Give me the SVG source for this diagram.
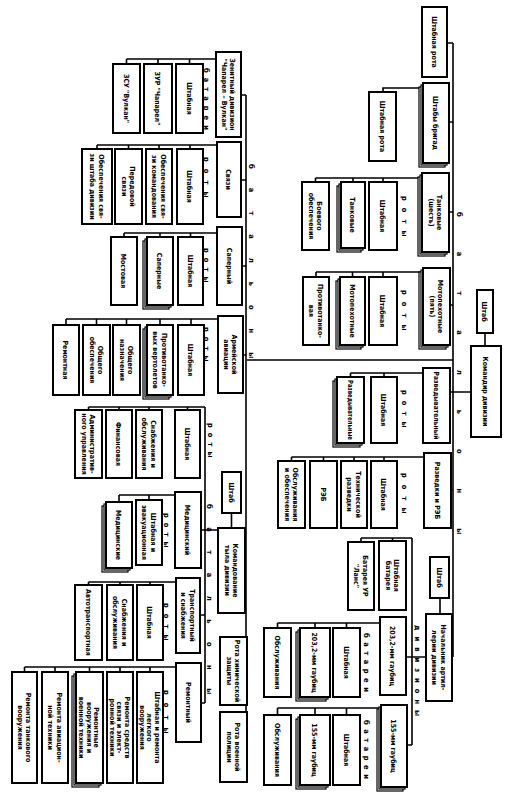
<svg xmlns="http://www.w3.org/2000/svg" width="511" height="800" viewBox="0 0 511 800">
<style>
.b{fill:#fff;stroke:#000;stroke-width:2}
.k{fill:#fff;stroke:#000;stroke-width:1.2}
.l{fill:none;stroke:#000;stroke-width:1.6}
.t{font-family:"DejaVu Sans Condensed","Liberation Sans Narrow","Liberation Sans",sans-serif;font-size:7px;font-weight:bold;text-anchor:middle;fill:#000}
.s{font-family:"DejaVu Sans Condensed","Liberation Sans",sans-serif;font-size:7.5px;font-weight:bold;fill:#000}
</style>
<rect width="511" height="800" fill="#fff"/>
<g id="connectors" class="l">
<path d="M453,43V657M447,43H453M449,122H453M449,212H453M450,305H453M450,392H471M451,490H453M247,360H453M485,333V346"/>
<path d="M423,88H383V92"/>
<path d="M422,178H315.5M383,178V182M353,178V182M315.5,178V182"/>
<path d="M423,272H316M383,272V277M352.5,272V277M316,272V277"/>
<path d="M423,373H350.5M384,373V377M350.5,373V377"/>
<path d="M424,457H291.5M384,457V461M354,457V461M323.5,457V461M291.5,457V461"/>
<path d="M440,598V614M452,657H453M412,657H426M412,538V745M361,538H412M392.5,538V541M361,538V542M406,657H412M407,745H412"/>
<path d="M380,623H277.5M346.5,623V628M315,623V628M277.5,623V628"/>
<path d="M381,708H277.5M346.5,708V715M315,708V715M277.5,708V715"/>
<path d="M246,95V747M241,95H246M241,180H246M242,266H246M243,355H246M245,570H246"/>
<path d="M216,59H126.5M189.5,59V64M158,59V64M126.5,59V64"/>
<path d="M217,145H97M190,145V149M159,145V149M128.5,145V149M97,145V149"/>
<path d="M217,233H124M190.5,233V237M160,233V237M124,233V237"/>
<path d="M218,319H66M191,319V325M160,319V325M126.5,319V325M96.5,319V325M66,319V325"/>
<path d="M205,407V703M205,407H88.5M187.5,407V410M149,407V410M119,407V410M88.5,407V410"/>
<path d="M231.5,513V528M201,530H218M200,615H205M201,703H205"/>
<path d="M175,495H119M149,495V500M119,495V502"/>
<path d="M176,582H88.5M150,582V585M120,582V585M88.5,582V585"/>
<path d="M176,667H24.5M150,667V672M120,667V672M89.5,667V672M55,667V672M24.5,667V672"/>
</g>
<g id="labels">
<text class="s" transform="translate(460,212) rotate(90)" y="2.6" letter-spacing="35">батальоны</text>
<text class="s" transform="translate(252,164) rotate(90)" y="2.6" letter-spacing="19">батальоны</text>
<text class="s" transform="translate(210,504) rotate(90)" y="2.6" letter-spacing="18.5">батальоны</text>
<text class="s" transform="translate(418,625) rotate(90)" y="2.6" letter-spacing="6">дивизионы</text>
<text class="s" transform="translate(405,196) rotate(90)" y="2.6" letter-spacing="7">роты</text>
<text class="s" transform="translate(405,290) rotate(90)" y="2.6" letter-spacing="7">роты</text>
<text class="s" transform="translate(405,390) rotate(90)" y="2.6" letter-spacing="6">роты</text>
<text class="s" transform="translate(405,473) rotate(90)" y="2.6" letter-spacing="7">роты</text>
<text class="s" transform="translate(367,633) rotate(90)" y="2.6" letter-spacing="4.5">батареи</text>
<text class="s" transform="translate(367,720) rotate(90)" y="2.6" letter-spacing="4.5">батареи</text>
<text class="s" transform="translate(207,68) rotate(90)" y="2.6" letter-spacing="5">батареи</text>
<text class="s" transform="translate(207,157) rotate(90)" y="2.6" letter-spacing="7">роты</text>
<text class="s" transform="translate(207,248) rotate(90)" y="2.6" letter-spacing="5">роты</text>
<text class="s" transform="translate(207,327) rotate(90)" y="2.6" letter-spacing="5">роты</text>
<text class="s" transform="translate(211,423) rotate(90)" y="2.6" letter-spacing="5">роты</text>
<text class="s" transform="translate(167,513) rotate(90)" y="2.6" letter-spacing="5">роты</text>
<text class="s" transform="translate(167,603) rotate(90)" y="2.6" letter-spacing="6">роты</text>
<text class="s" transform="translate(167,690) rotate(90)" y="2.6" letter-spacing="8">роты</text>
</g>
<g id="n-shtab-rota"><rect class="b" x="422" y="7" width="25" height="70"/><text class="t" transform="translate(434.5,42) rotate(90)" y="2.6">Штабная рота</text></g>
<g id="n-shtaby-brigad"><rect class="k" x="419" y="87" width="26" height="80"/><rect class="k" x="421" y="85" width="26" height="80"/><rect class="b" x="423" y="83" width="26" height="80"/><text class="t" transform="translate(436,123) rotate(90)" y="2.6">Штабы бригад</text></g>
<g id="n-brig-rota"><rect class="b" x="369" y="92" width="27" height="69"/><text class="t" transform="translate(382.5,126.5) rotate(90)" y="2.6">Штабная рота</text></g>
<g id="n-tank"><rect class="k" x="418" y="177" width="27" height="79"/><rect class="k" x="420" y="175" width="27" height="79"/><rect class="b" x="422" y="173" width="27" height="79"/><text class="t" transform="translate(435.5,212.5) rotate(90)"><tspan x="0" y="-1.65">Танковые</tspan><tspan x="0" y="6.85">(шесть)</tspan></text></g>
<g id="n-tank-sh"><rect class="b" x="369" y="182" width="28" height="68"/><text class="t" transform="translate(383,216) rotate(90)" y="2.6">Штабная</text></g>
<g id="n-tank-t"><rect class="k" x="337" y="186" width="24" height="66"/><rect class="k" x="339" y="184" width="24" height="66"/><rect class="b" x="341" y="182" width="24" height="66"/><text class="t" transform="translate(353,215) rotate(90)" y="2.6">Танковые</text></g>
<g id="n-tank-bo"><rect class="b" x="302" y="182" width="27" height="68"/><text class="t" transform="translate(315.5,216) rotate(90)"><tspan x="0" y="-1.65">Боевого</tspan><tspan x="0" y="6.85">обеспечения</tspan></text></g>
<g id="n-mp"><rect class="k" x="419" y="272" width="27" height="77"/><rect class="k" x="421" y="270" width="27" height="77"/><rect class="b" x="423" y="268" width="27" height="77"/><text class="t" transform="translate(436.5,306.5) rotate(90)"><tspan x="0" y="-1.65">Мотопехотные</tspan><tspan x="0" y="6.85">(пять)</tspan></text></g>
<g id="n-mp-sh"><rect class="b" x="369" y="277" width="28" height="68"/><text class="t" transform="translate(383,311) rotate(90)" y="2.6">Штабная</text></g>
<g id="n-mp-m"><rect class="k" x="336" y="281" width="25" height="68"/><rect class="k" x="338" y="279" width="25" height="68"/><rect class="b" x="340" y="277" width="25" height="68"/><text class="t" transform="translate(352.5,311) rotate(90)" y="2.6">Мотопехотные</text></g>
<g id="n-mp-pt"><rect class="b" x="303" y="277" width="26" height="68"/><text class="t" transform="translate(316,311) rotate(90)"><tspan x="0" y="-1.65">Противотанко-</tspan><tspan x="0" y="6.85">вая</tspan></text></g>
<g id="n-razv"><rect class="b" x="423" y="368" width="27" height="75"/><text class="t" transform="translate(436.5,405.5) rotate(90)" y="2.6" textLength="68" lengthAdjust="spacingAndGlyphs">Разведывательный</text></g>
<g id="n-razv-sh"><rect class="b" x="371" y="377" width="26" height="66"/><text class="t" transform="translate(384,410) rotate(90)" y="2.6">Штабная</text></g>
<g id="n-razv-r"><rect class="k" x="333" y="381" width="27" height="66"/><rect class="k" x="335" y="379" width="27" height="66"/><rect class="b" x="337" y="377" width="27" height="66"/><text class="t" transform="translate(350.5,410) rotate(90)" y="2.6" textLength="60" lengthAdjust="spacingAndGlyphs">Разведывательные</text></g>
<g id="n-reb"><rect class="b" x="424" y="453" width="27" height="75"/><text class="t" transform="translate(437.5,490.5) rotate(90)" y="2.6">Разведки и РЭБ</text></g>
<g id="n-reb-sh"><rect class="b" x="371" y="461" width="26" height="67"/><text class="t" transform="translate(384,494.5) rotate(90)" y="2.6">Штабная</text></g>
<g id="n-reb-tr"><rect class="b" x="341" y="461" width="26" height="67"/><text class="t" transform="translate(354,494.5) rotate(90)"><tspan x="0" y="-1.65">Технической</tspan><tspan x="0" y="6.85">разведки</tspan></text></g>
<g id="n-reb-reb"><rect class="b" x="310" y="461" width="27" height="67"/><text class="t" transform="translate(323.5,494.5) rotate(90)" y="2.6">РЭБ</text></g>
<g id="n-reb-ob"><rect class="b" x="278" y="461" width="27" height="67"/><text class="t" transform="translate(291.5,494.5) rotate(90)"><tspan x="0" y="-1.65">Обслуживания</tspan><tspan x="0" y="6.85">и обеспечения</tspan></text></g>
<g id="n-shtab"><rect class="b" x="477" y="290" width="16" height="43"/><text class="t" transform="translate(485,311.5) rotate(90)" y="2.6">Штаб</text></g>
<g id="n-komdiv"><rect class="b" x="471" y="346" width="30" height="91"/><text class="t" transform="translate(486,391.5) rotate(90)" y="2.6">Командир дивизии</text></g>
<g id="n-art-shtab"><rect class="b" x="430" y="557" width="19" height="41"/><text class="t" transform="translate(439.5,577.5) rotate(90)" y="2.6">Штаб</text></g>
<g id="n-nachart"><rect class="b" x="426" y="614" width="26" height="87"/><text class="t" transform="translate(439,657.5) rotate(90)"><tspan x="0" y="-1.65">Начальник артил-</tspan><tspan x="0" y="6.85">лерии дивизии</tspan></text></g>
<g id="n-sh-bat"><rect class="b" x="379" y="541" width="27" height="69"/><text class="t" transform="translate(392.5,575.5) rotate(90)"><tspan x="0" y="-1.65">Штабная</tspan><tspan x="0" y="6.85">батарея</tspan></text></g>
<g id="n-lance"><rect class="b" x="348" y="542" width="26" height="68"/><text class="t" transform="translate(361,576) rotate(90)"><tspan x="0" y="-1.65">Батарея УР</tspan><tspan x="0" y="6.85">"Ланс"</tspan></text></g>
<g id="n-203"><rect class="b" x="380" y="617" width="26" height="78"/><text class="t" transform="translate(393,656) rotate(90)" y="2.6">203,2-мм гаубиц</text></g>
<g id="n-203-sh"><rect class="b" x="333" y="628" width="27" height="69"/><text class="t" transform="translate(346.5,662.5) rotate(90)" y="2.6">Штабная</text></g>
<g id="n-203-g"><rect class="k" x="296" y="632" width="30" height="69"/><rect class="k" x="298" y="630" width="30" height="69"/><rect class="b" x="300" y="628" width="30" height="69"/><text class="t" transform="translate(315,662.5) rotate(90)" y="2.6">203,2-мм гаубиц</text></g>
<g id="n-203-ob"><rect class="b" x="264" y="628" width="27" height="69"/><text class="t" transform="translate(277.5,662.5) rotate(90)" y="2.6">Обслуживания</text></g>
<g id="n-155"><rect class="k" x="377" y="709" width="26" height="82"/><rect class="k" x="379" y="707" width="26" height="82"/><rect class="b" x="381" y="705" width="26" height="82"/><text class="t" transform="translate(394,746) rotate(90)" y="2.6">155-мм гаубиц</text></g>
<g id="n-155-sh"><rect class="b" x="333" y="715" width="27" height="70"/><text class="t" transform="translate(346.5,750) rotate(90)" y="2.6">Штабная</text></g>
<g id="n-155-g"><rect class="k" x="296" y="719" width="30" height="70"/><rect class="k" x="298" y="717" width="30" height="70"/><rect class="b" x="300" y="715" width="30" height="70"/><text class="t" transform="translate(315,750) rotate(90)" y="2.6">155-мм гаубиц</text></g>
<g id="n-155-ob"><rect class="b" x="264" y="715" width="27" height="70"/><text class="t" transform="translate(277.5,750) rotate(90)" y="2.6">Обслуживания</text></g>
<g id="n-zen"><rect class="b" x="216" y="52" width="25" height="85"/><text class="t" transform="translate(228.5,94.5) rotate(90)"><tspan x="0" y="-1.65">Зенитный дивизион</tspan><tspan x="0" y="6.85">"Чапарел – Вулкан"</tspan></text></g>
<g id="n-zen-sh"><rect class="b" x="176" y="64" width="27" height="69"/><text class="t" transform="translate(189.5,98.5) rotate(90)" y="2.6">Штабная</text></g>
<g id="n-zen-zur"><rect class="b" x="144" y="64" width="28" height="69"/><text class="t" transform="translate(158,98.5) rotate(90)" y="2.6">ЗУР "Чапарел"</text></g>
<g id="n-zen-zsu"><rect class="b" x="113" y="64" width="27" height="69"/><text class="t" transform="translate(126.5,98.5) rotate(90)" y="2.6">ЗСУ "Вулкан"</text></g>
<g id="n-sv"><rect class="b" x="217" y="142" width="24" height="75"/><text class="t" transform="translate(229,179.5) rotate(90)" y="2.6">Связи</text></g>
<g id="n-sv-sh"><rect class="b" x="177" y="149" width="26" height="75"/><text class="t" transform="translate(190,186.5) rotate(90)" y="2.6">Штабная</text></g>
<g id="n-sv-1"><rect class="b" x="146" y="149" width="26" height="75"/><text class="t" transform="translate(159,186.5) rotate(90)"><tspan x="0" y="-1.65">Обеспечения свя-</tspan><tspan x="0" y="6.85">зи командования</tspan></text></g>
<g id="n-sv-2"><rect class="b" x="115" y="149" width="27" height="75"/><text class="t" transform="translate(128.5,186.5) rotate(90)"><tspan x="0" y="-1.65">Передовой</tspan><tspan x="0" y="6.85">связи</tspan></text></g>
<g id="n-sv-3"><rect class="b" x="82" y="149" width="30" height="75"/><text class="t" transform="translate(97,186.5) rotate(90)"><tspan x="0" y="-1.65">Обеспечения свя-</tspan><tspan x="0" y="6.85">зи штаба дивизии</tspan></text></g>
<g id="n-sap"><rect class="b" x="217" y="227" width="25" height="78"/><text class="t" transform="translate(229.5,266) rotate(90)" y="2.6">Саперный</text></g>
<g id="n-sap-sh"><rect class="b" x="178" y="237" width="25" height="68"/><text class="t" transform="translate(190.5,271) rotate(90)" y="2.6">Штабная</text></g>
<g id="n-sap-s"><rect class="k" x="143" y="241" width="26" height="68"/><rect class="k" x="145" y="239" width="26" height="68"/><rect class="b" x="147" y="237" width="26" height="68"/><text class="t" transform="translate(160,271) rotate(90)" y="2.6">Саперные</text></g>
<g id="n-sap-m"><rect class="b" x="111" y="237" width="26" height="68"/><text class="t" transform="translate(124,271) rotate(90)" y="2.6">Мостовая</text></g>
<g id="n-av"><rect class="b" x="218" y="316" width="25" height="77"/><text class="t" transform="translate(230.5,354.5) rotate(90)"><tspan x="0" y="-1.65">Армейской</tspan><tspan x="0" y="6.85">авиации</tspan></text></g>
<g id="n-av-sh"><rect class="b" x="178" y="325" width="26" height="70"/><text class="t" transform="translate(191,360) rotate(90)" y="2.6">Штабная</text></g>
<g id="n-av-pt"><rect class="k" x="143" y="329" width="26" height="70"/><rect class="k" x="145" y="327" width="26" height="70"/><rect class="b" x="147" y="325" width="26" height="70"/><text class="t" transform="translate(160,360) rotate(90)"><tspan x="0" y="-1.65">Противотанко-</tspan><tspan x="0" y="6.85">вых вертолетов</tspan></text></g>
<g id="n-av-on"><rect class="b" x="113" y="325" width="27" height="70"/><text class="t" transform="translate(126.5,360) rotate(90)"><tspan x="0" y="-1.65">Общего</tspan><tspan x="0" y="6.85">назначения</tspan></text></g>
<g id="n-av-oo"><rect class="b" x="83" y="325" width="27" height="70"/><text class="t" transform="translate(96.5,360) rotate(90)"><tspan x="0" y="-1.65">Общего</tspan><tspan x="0" y="6.85">обеспечения</tspan></text></g>
<g id="n-av-rem"><rect class="b" x="53" y="325" width="26" height="70"/><text class="t" transform="translate(66,360) rotate(90)" y="2.6">Ремонтная</text></g>
<g id="n-tyl-sh"><rect class="b" x="175" y="410" width="25" height="68"/><text class="t" transform="translate(187.5,444) rotate(90)" y="2.6">Штабная</text></g>
<g id="n-tyl-sn"><rect class="b" x="136" y="410" width="26" height="68"/><text class="t" transform="translate(149,444) rotate(90)"><tspan x="0" y="-1.65">Снабжения и</tspan><tspan x="0" y="6.85">обслуживания</tspan></text></g>
<g id="n-tyl-fin"><rect class="b" x="106" y="410" width="26" height="68"/><text class="t" transform="translate(119,444) rotate(90)" y="2.6">Финансовая</text></g>
<g id="n-tyl-adm"><rect class="b" x="75" y="410" width="27" height="68"/><text class="t" transform="translate(88.5,444) rotate(90)"><tspan x="0" y="-1.65">Административ-</tspan><tspan x="0" y="6.85">ного управления</tspan></text></g>
<g id="n-tyl-shtab"><rect class="b" x="222" y="472" width="19" height="41"/><text class="t" transform="translate(231.5,492.5) rotate(90)" y="2.6">Штаб</text></g>
<g id="n-tyl"><rect class="b" x="218" y="528" width="27" height="85"/><text class="t" transform="translate(231.5,570.5) rotate(90)"><tspan x="0" y="-1.65">Командование</tspan><tspan x="0" y="6.85">тыла дивизии</tspan></text></g>
<g id="n-med"><rect class="b" x="175" y="492" width="26" height="76"/><text class="t" transform="translate(188,530) rotate(90)" y="2.6">Медицинский</text></g>
<g id="n-med-sh"><rect class="b" x="136" y="500" width="26" height="65"/><text class="t" transform="translate(149,532.5) rotate(90)"><tspan x="0" y="-1.65">Штабная и</tspan><tspan x="0" y="6.85">эвакуационная</tspan></text></g>
<g id="n-med-m"><rect class="k" x="102" y="506" width="26" height="66"/><rect class="k" x="104" y="504" width="26" height="66"/><rect class="b" x="106" y="502" width="26" height="66"/><text class="t" transform="translate(119,535) rotate(90)" y="2.6">Медицинские</text></g>
<g id="n-tr"><rect class="b" x="176" y="578" width="24" height="75"/><text class="t" transform="translate(188,615.5) rotate(90)"><tspan x="0" y="-1.65">Транспортный</tspan><tspan x="0" y="6.85">и снабжения</tspan></text></g>
<g id="n-tr-sh"><rect class="b" x="137" y="585" width="26" height="75"/><text class="t" transform="translate(150,622.5) rotate(90)" y="2.6">Штабная</text></g>
<g id="n-tr-sn"><rect class="b" x="107" y="585" width="26" height="75"/><text class="t" transform="translate(120,622.5) rotate(90)"><tspan x="0" y="-1.65">Снабжения и</tspan><tspan x="0" y="6.85">обслуживания</tspan></text></g>
<g id="n-tr-at"><rect class="b" x="75" y="585" width="27" height="75"/><text class="t" transform="translate(88.5,622.5) rotate(90)" y="2.6">Автотранспортная</text></g>
<g id="n-rem"><rect class="b" x="176" y="663" width="25" height="79"/><text class="t" transform="translate(188.5,702.5) rotate(90)" y="2.6">Ремонтный</text></g>
<g id="n-rem-sh"><rect class="b" x="137" y="672" width="26" height="111"/><text class="t" transform="translate(150,727.5) rotate(90)"><tspan x="0" y="-4.9">Штабная и ремонта</tspan><tspan x="0" y="2.6">легкого</tspan><tspan x="0" y="10.1">вооружения</tspan></text></g>
<g id="n-rem-sv"><rect class="b" x="107" y="672" width="26" height="111"/><text class="t" transform="translate(120,727.5) rotate(90)"><tspan x="0" y="-4.9">Ремонта средств</tspan><tspan x="0" y="2.6">связи и элект-</tspan><tspan x="0" y="10.1">ронной техники</tspan></text></g>
<g id="n-rem-vo"><rect class="k" x="72" y="676" width="27" height="111"/><rect class="k" x="74" y="674" width="27" height="111"/><rect class="b" x="76" y="672" width="27" height="111"/><text class="t" transform="translate(89.5,727.5) rotate(90)"><tspan x="0" y="-4.9">Ремонтные</tspan><tspan x="0" y="2.6">вооружения и</tspan><tspan x="0" y="10.1">военной техники</tspan></text></g>
<g id="n-rem-av"><rect class="b" x="42" y="672" width="26" height="111"/><text class="t" transform="translate(55,727.5) rotate(90)"><tspan x="0" y="-1.65">Ремонта авиацион-</tspan><tspan x="0" y="6.85">ной техники</tspan></text></g>
<g id="n-rem-tk"><rect class="b" x="12" y="672" width="25" height="111"/><text class="t" transform="translate(24.5,727.5) rotate(90)"><tspan x="0" y="-1.65">Ремонта танкового</tspan><tspan x="0" y="6.85">вооружения</tspan></text></g>
<g id="n-rota-hz"><rect class="b" x="220" y="637" width="27" height="68"/><text class="t" transform="translate(233.5,671) rotate(90)"><tspan x="0" y="-1.65">Рота химической</tspan><tspan x="0" y="6.85">защиты</tspan></text></g>
<g id="n-rota-vp"><rect class="b" x="220" y="712" width="27" height="70"/><text class="t" transform="translate(233.5,747) rotate(90)"><tspan x="0" y="-1.65">Рота военной</tspan><tspan x="0" y="6.85">полиции</tspan></text></g>
</svg>
